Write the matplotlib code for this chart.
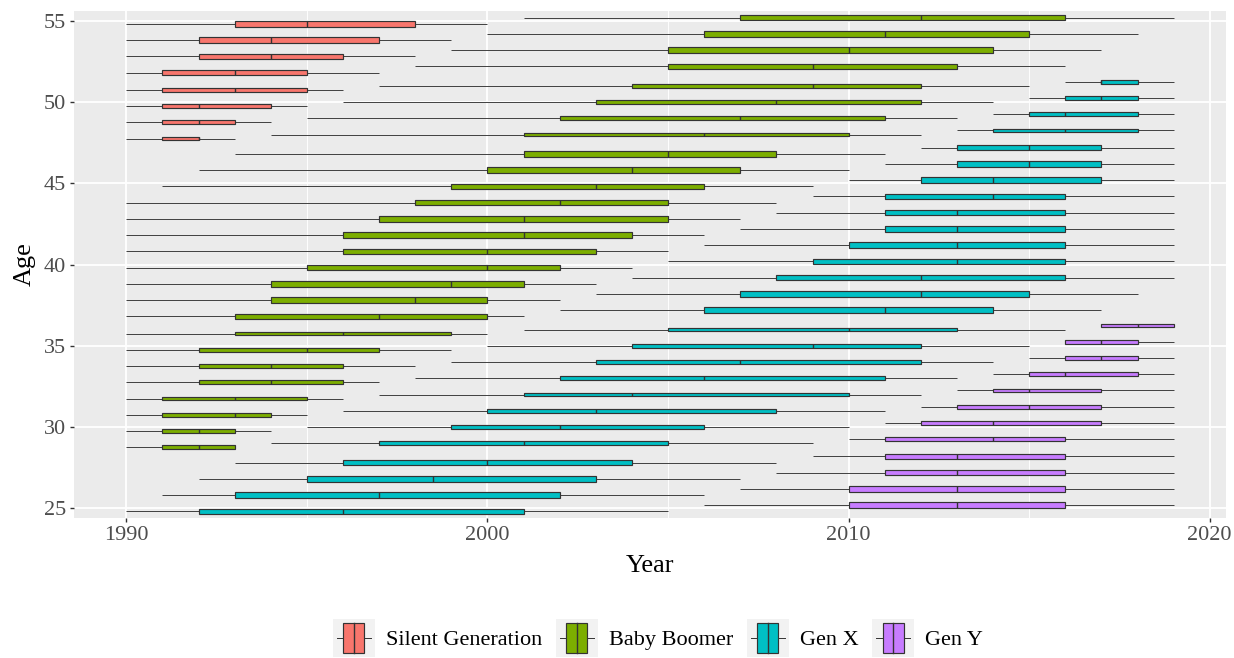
import matplotlib
matplotlib.use("Agg")
import matplotlib.pyplot as plt
from matplotlib.patches import Rectangle, Patch
from matplotlib.lines import Line2D
from matplotlib.legend_handler import HandlerBase

plt.rcParams['font.family'] = ['Liberation Serif', 'DejaVu Serif']

# ---------------- data ----------------
generations = ["Silent Generation", "Baby Boomer", "Gen X", "Gen Y"]
colors = ["#F8766D", "#7CAE00", "#00BFC4", "#C77CFF"]

silent_age = [55, 54, 53, 52, 51, 50, 49, 48]
silent_min = [1990, 1990, 1990, 1990, 1990, 1990, 1990, 1990]
silent_q1 = [1993, 1992, 1992, 1991, 1991, 1991, 1991, 1991]
silent_med = [1995, 1994, 1994, 1993, 1993, 1992, 1992, 1992]
silent_q3 = [1998, 1997, 1996, 1995, 1995, 1994, 1993, 1992]
silent_max = [2000, 1999, 1998, 1997, 1996, 1995, 1994, 1993]

boomer_age = [55, 54, 53, 52, 51, 50, 49, 48, 47, 46, 45, 44, 43, 42, 41, 40,
              39, 38, 37, 36, 35, 34, 33, 32, 31, 30, 29]
boomer_min = [2001, 2000, 1999, 1998, 1997, 1996, 1995, 1994, 1993, 1992, 1991, 1990, 1990, 1990, 1990, 1990,
              1990, 1990, 1990, 1990, 1990, 1990, 1990, 1990, 1990, 1990, 1990]
boomer_q1 = [2007, 2006, 2005, 2005, 2004, 2003, 2002, 2001, 2001, 2000, 1999, 1998, 1997, 1996, 1996, 1995,
             1994, 1994, 1993, 1993, 1992, 1992, 1992, 1991, 1991, 1991, 1991]
boomer_med = [2012, 2011, 2010, 2009, 2009, 2008, 2007, 2006, 2005, 2004, 2003, 2002, 2001, 2001, 2000, 2000,
              1999, 1998, 1997, 1996, 1995, 1994, 1994, 1993, 1993, 1992, 1992]
boomer_q3 = [2016, 2015, 2014, 2013, 2012, 2012, 2011, 2010, 2008, 2007, 2006, 2005, 2005, 2004, 2003, 2002,
             2001, 2000, 2000, 1999, 1997, 1996, 1996, 1995, 1994, 1993, 1993]
boomer_max = [2019, 2018, 2017, 2016, 2015, 2014, 2013, 2012, 2011, 2010, 2009, 2008, 2007, 2006, 2005, 2004,
              2003, 2002, 2001, 2000, 1999, 1998, 1997, 1996, 1995, 1994, 1993]

genx_age = [51, 50, 49, 48, 47, 46, 45, 44, 43, 42, 41, 40, 39, 38, 37, 36,
            35, 34, 33, 32, 31, 30, 29, 28, 27, 26, 25]
genx_min = [2016, 2015, 2014, 2013, 2012, 2011, 2010, 2009, 2008, 2007, 2006, 2005, 2004, 2003, 2002, 2001,
            2000, 1999, 1998, 1997, 1996, 1995, 1994, 1993, 1992, 1991, 1990]
genx_q1 = [2017, 2016, 2015, 2014, 2013, 2013, 2012, 2011, 2011, 2011, 2010, 2009, 2008, 2007, 2006, 2005,
           2004, 2003, 2002, 2001, 2000, 1999, 1997, 1996, 1995, 1993, 1992]
genx_med = [2017, 2017, 2016, 2016, 2015, 2015, 2014, 2014, 2013, 2013, 2013, 2013, 2012, 2012, 2011, 2010,
            2009, 2007, 2006, 2004, 2003, 2002, 2001, 2000, 1998.5, 1997, 1996]
genx_q3 = [2018, 2018, 2018, 2018, 2017, 2017, 2017, 2016, 2016, 2016, 2016, 2016, 2016, 2015, 2014, 2013,
           2012, 2012, 2011, 2010, 2008, 2006, 2005, 2004, 2003, 2002, 2001]
genx_max = [2019, 2019, 2019, 2019, 2019, 2019, 2019, 2019, 2019, 2019, 2019, 2019, 2019, 2018, 2017, 2016,
            2015, 2014, 2013, 2012, 2011, 2010, 2009, 2008, 2007, 2006, 2005]

geny_age = [36, 35, 34, 33, 32, 31, 30, 29, 28, 27, 26, 25]
geny_min = [2017, 2016, 2015, 2014, 2013, 2012, 2011, 2010, 2009, 2008, 2007, 2006]
geny_q1 = [2017, 2016, 2016, 2015, 2014, 2013, 2012, 2011, 2011, 2011, 2010, 2010]
geny_med = [2018, 2017, 2017, 2016, 2015, 2015, 2014, 2014, 2013, 2013, 2013, 2013]
geny_q3 = [2019, 2018, 2018, 2018, 2017, 2017, 2017, 2016, 2016, 2016, 2016, 2016]
geny_max = [2019, 2019, 2019, 2019, 2019, 2019, 2019, 2019, 2019, 2019, 2019, 2019]

age_ticks = [25, 30, 35, 40, 45, 50, 55]
year_ticks = [1990, 2000, 2010, 2020]
year_minor = [1995, 2005, 2015]

series = [
    (silent_age, silent_min, silent_q1, silent_med, silent_q3, silent_max),
    (boomer_age, boomer_min, boomer_q1, boomer_med, boomer_q3, boomer_max),
    (genx_age, genx_min, genx_q1, genx_med, genx_q3, genx_max),
    (geny_age, geny_min, geny_q1, geny_med, geny_q3, geny_max),
]

# ---------------- figure ----------------
W, H = 1234, 658
fig = plt.figure(figsize=(W / 100, H / 100), dpi=100)
left, right, top, bottom = 74, 1226, 11, 518
ax = fig.add_axes([left / W, 1 - bottom / H, (right - left) / W, (bottom - top) / H])
ax.set_facecolor("#EBEBEB")
for s in ax.spines.values():
    s.set_visible(False)
ax.set_axisbelow(True)

# dodge: groups present at each age
present = {}
for gi, s in enumerate(series):
    for a in s[0]:
        present.setdefault(a, []).append(gi)

DODGE = 0.75
PAD = 0.1
edge = "#333333"

for gi, s in enumerate(series):
    ages, mn, q1, md, q3, mx = s
    stats, pos, wid = [], [], []
    for k, a in enumerate(ages):
        grp = sorted(present[a])
        n = len(grp)
        i = grp.index(gi)
        slot = DODGE / n
        pos.append(a - DODGE / 2 + slot * (i + 0.5))
        wid.append(slot * (1 - PAD))
        stats.append(dict(med=md[k], q1=q1[k], q3=q3[k], whislo=mn[k], whishi=mx[k], fliers=[]))
    kw = dict(positions=pos, widths=wid, patch_artist=True, showfliers=False, showcaps=False,
              boxprops=dict(facecolor=colors[gi], edgecolor=edge, linewidth=0.85),
              whiskerprops=dict(color=edge, linewidth=0.65, solid_capstyle="butt"),
              medianprops=dict(color=edge, linewidth=1.0, solid_capstyle="butt"),
              manage_ticks=False)
    try:
        ax.bxp(stats, orientation="horizontal", **kw)
    except TypeError:
        ax.bxp(stats, vert=False, **kw)

ax.set_xlim(1988.55, 2020.45)
ax.set_ylim(24.4, 55.6)
ax.set_xticks(year_ticks)
ax.set_xticks(year_minor, minor=True)
ax.set_yticks(age_ticks)
ax.set_yticklabels([str(a) for a in age_ticks])
ax.grid(which="major", color="white", linewidth=1.3)
ax.grid(which="minor", axis="x", color="white", linewidth=0.65)
ax.tick_params(which="major", length=3.2, width=1.0, color=edge, labelcolor="#4D4D4D",
               labelsize=16, pad=2.5)
ax.tick_params(which="minor", length=0)
ax.set_xlabel("Year", fontsize=19, labelpad=7)
ax.set_ylabel("Age", fontsize=19, labelpad=6)


# ---------------- legend ----------------
class BoxKey(HandlerBase):
    def __init__(self, color):
        super().__init__()
        self.color = color

    def create_artists(self, legend, orig_handle, xdescent, ydescent, width, height, fontsize, trans):
        x0, y0 = -xdescent, -ydescent
        arts = [Rectangle((x0, y0), width, height, facecolor="#F2F2F2", edgecolor="none", transform=trans)]
        yc = y0 + height / 2
        arts.append(Line2D([x0 + 0.1 * width, x0 + 0.25 * width], [yc, yc], color=edge, lw=0.7, transform=trans))
        arts.append(Line2D([x0 + 0.75 * width, x0 + 0.9 * width], [yc, yc], color=edge, lw=0.7, transform=trans))
        arts.append(Rectangle((x0 + 0.25 * width, y0 + 0.1 * height), 0.5 * width, 0.8 * height,
                              facecolor=self.color, edgecolor=edge, linewidth=0.85, transform=trans))
        arts.append(Line2D([x0 + 0.5 * width] * 2, [y0 + 0.1 * height, y0 + 0.9 * height],
                           color=edge, lw=1.0, transform=trans))
        return arts


handles = [Patch(facecolor=c) for c in colors]
hmap = {h: BoxKey(c) for h, c in zip(handles, colors)}
fig.legend(handles, generations, handler_map=hmap, loc="center", bbox_to_anchor=(658 / W, 1 - 638 / H),
           ncol=4, frameon=False, fontsize=16, handlelength=1.9, handleheight=2.3,
           handletextpad=0.5, columnspacing=0.6, borderaxespad=0, borderpad=0)

fig.savefig("out.png", dpi=100)
